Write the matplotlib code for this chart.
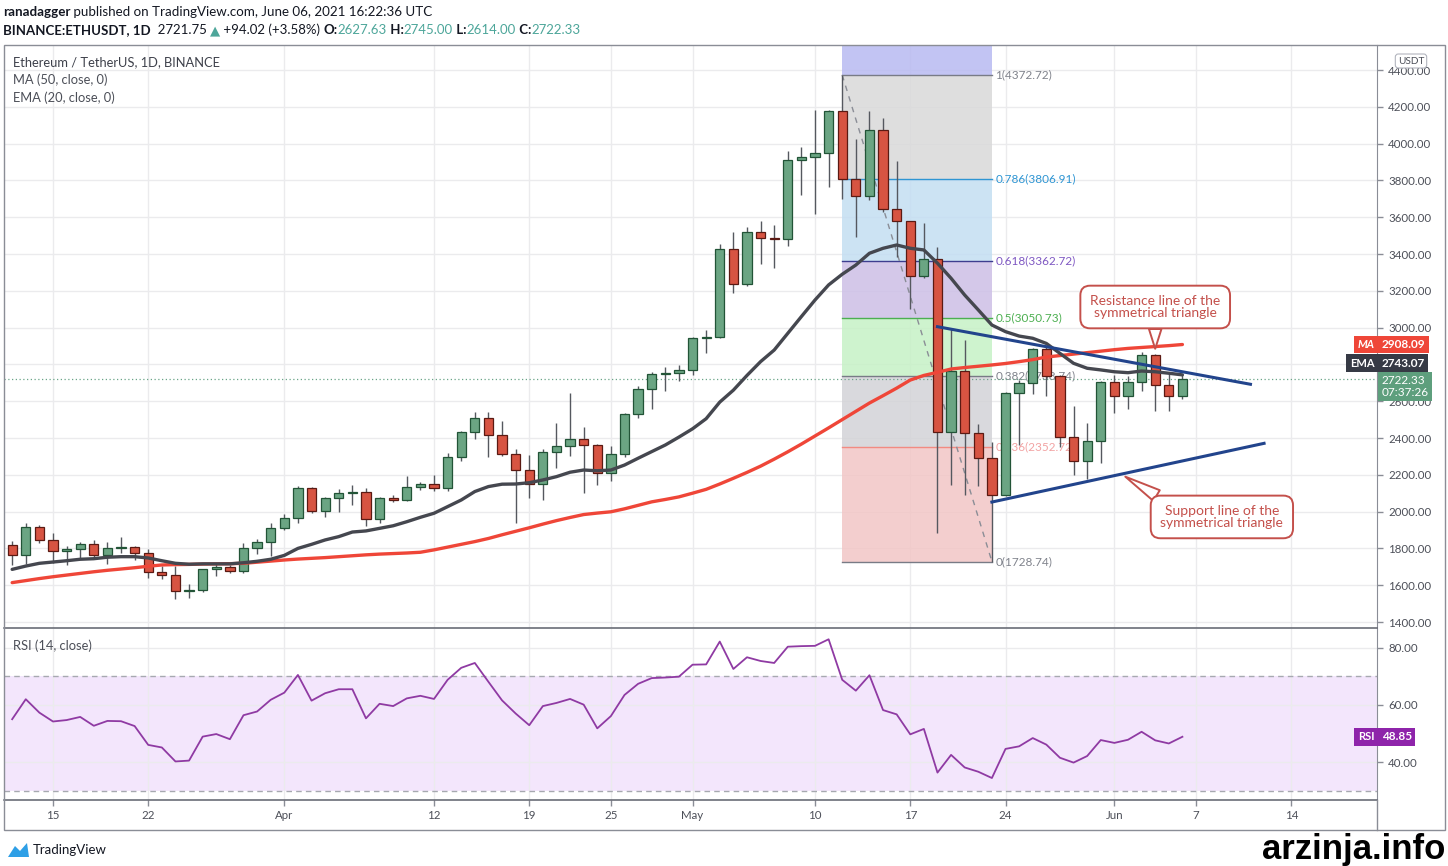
import numpy as np
import pandas as pd
import matplotlib
matplotlib.use("Agg")
import matplotlib.pyplot as plt
from matplotlib.patches import Rectangle, Polygon
from matplotlib.lines import Line2D
import matplotlib.transforms as mtransforms

plt.rcParams['font.family'] = ['Lato', 'DejaVu Sans']

# ---- data (ETH/USDT daily, 2021-03-12 .. 2021-06-06) ----
start_date = "2021-03-12"

opens = [1818, 1765, 1918, 1843, 1784, 1797, 1822, 1765, 1804, 1808,
         1774, 1670, 1656, 1567, 1573, 1687, 1701, 1675, 1803, 1836,
         1911, 1963, 2130, 2003, 2072, 2101, 2108, 1960, 2072, 2063,
         2132, 2148, 2128, 2297, 2431, 2507, 2416, 2315, 2226, 2150,
         2326, 2355, 2393, 2360, 2212, 2315, 2529, 2665, 2746, 2752,
         2770, 2942, 2950, 3427, 3237, 3518, 3485, 3480, 3911, 3926,
         3948, 4177, 3810, 3715, 4074, 3647, 3579, 3280, 3371, 2434,
         2764, 2428, 2289, 2090, 2646, 2697, 2882, 2737, 2404, 2275,
         2382, 2704, 2630, 2702, 2851, 2686, 2627.63]
highs = [1838, 1940, 1929, 1882, 1815, 1837, 1846, 1836, 1864, 1812,
         1797, 1706, 1703, 1605, 1690, 1723, 1712, 1832, 1850, 1940,
         1985, 2139, 2133, 2081, 2121, 2145, 2128, 2078, 2090, 2195,
         2160, 2199, 2316, 2440, 2540, 2543, 2492, 2338, 2305, 2340,
         2480, 2643, 2459, 2368, 2356, 2534, 2680, 2761, 2788, 2796,
         2950, 2986, 3454, 3519, 3548, 3577, 3555, 3960, 3982, 4183,
         4185, 4372.72, 4027, 4179, 4138, 3904, 3580, 3571, 3440, 2990,
         2933, 2478, 2380, 2650, 2715, 2890, 2900, 2742, 2575, 2481,
         2710, 2740, 2736, 2865, 2856, 2758, 2745]
lows = [1712, 1716, 1830, 1720, 1708, 1742, 1752, 1716, 1774, 1738,
        1640, 1634, 1527, 1530, 1565, 1651, 1666, 1665, 1772, 1760,
        1900, 1940, 1990, 1970, 1996, 2036, 1920, 1940, 2052, 2055,
        2115, 2110, 2112, 2273, 2393, 2295, 2302, 1940, 2076, 2062,
        2238, 2300, 2099, 2147, 2167, 2295, 2508, 2556, 2657, 2710,
        2745, 2860, 2945, 3186, 3228, 3346, 3324, 3446, 3720, 3615,
        3765, 3697, 3493, 3695, 3628, 3385, 3099, 3269, 1882, 2145,
        2090, 2140, 1728.74, 2085, 2360, 2640, 2628, 2353, 2200, 2178,
        2266, 2534, 2556, 2656, 2547, 2547, 2614]
closes = [1765, 1918, 1843, 1784, 1797, 1822, 1765, 1804, 1808, 1774,
          1670, 1656, 1567, 1573, 1687, 1701, 1675, 1803, 1836, 1911,
          1963, 2130, 2003, 2072, 2101, 2108, 1960, 2072, 2063, 2132,
          2148, 2128, 2297, 2431, 2507, 2416, 2315, 2226, 2150, 2326,
          2355, 2393, 2360, 2212, 2315, 2529, 2665, 2746, 2752, 2770,
          2942, 2950, 3427, 3237, 3518, 3485, 3480, 3911, 3926, 3948,
          4177, 3810, 3715, 4074, 3647, 3579, 3280, 3371, 2434, 2764,
          2428, 2289, 2090, 2646, 2697, 2882, 2737, 2404, 2275, 2382,
          2704, 2630, 2702, 2851, 2686, 2627.63, 2722.33]

ema20 = [1686, 1704, 1719, 1726, 1733, 1741, 1744, 1752, 1755, 1755,
         1748, 1733, 1719, 1714, 1716, 1716, 1716, 1722, 1730, 1741,
         1762, 1800, 1822, 1846, 1864, 1889, 1895, 1909, 1923, 1945,
         1969, 1991, 2027, 2063, 2109, 2136, 2149, 2150, 2157, 2172,
         2190, 2214, 2226, 2222, 2226, 2253, 2290, 2326, 2362, 2405,
         2450, 2505, 2595, 2660, 2740, 2815, 2878, 2969, 3060, 3150,
         3232, 3290, 3340, 3404, 3431, 3449, 3431, 3422, 3350, 3268,
         3177, 3096, 3014, 2978, 2954, 2942, 2914, 2860, 2806, 2779,
         2770, 2760, 2755, 2764, 2760, 2752, 2743.07]
ma50 = [1614, 1625, 1636, 1646, 1655, 1664, 1673, 1681, 1688, 1695,
        1703, 1710, 1712, 1713, 1715, 1716, 1717, 1719, 1725, 1731,
        1737, 1742, 1746, 1750, 1755, 1760, 1765, 1769, 1772, 1775,
        1779, 1792, 1807, 1822, 1837, 1854, 1874, 1893, 1912, 1932,
        1951, 1968, 1984, 1992, 1999, 2015, 2034, 2053, 2066, 2080,
        2100, 2121, 2150, 2181, 2213, 2247, 2285, 2325, 2367, 2411,
        2455, 2500, 2545, 2590, 2630, 2671, 2715, 2740, 2757, 2775,
        2783, 2790, 2797, 2805, 2815, 2826, 2840, 2848, 2856, 2864,
        2872, 2880, 2887, 2892, 2897, 2902, 2908.09]
rsi14 = [55.0, 62.0, 57.3, 54.2, 54.7, 55.8, 52.7, 54.4, 54.3, 52.6,
         46.0, 45.1, 40.2, 40.5, 48.9, 49.8, 48.0, 56.4, 57.7, 61.8,
         64.3, 70.5, 61.5, 64.1, 65.5, 65.5, 55.3, 60.4, 59.6, 62.3,
         63.2, 62.1, 68.8, 73.0, 74.7, 68.1, 61.6, 57.0, 52.9, 59.6,
         60.7, 62.1, 60.1, 51.8, 56.1, 63.5, 67.4, 69.4, 69.6, 69.9,
         74.1, 74.2, 82.2, 72.6, 76.7, 75.4, 74.7, 80.4, 80.6, 80.7,
         83.0, 68.8, 65.0, 70.4, 58.2, 56.7, 49.7, 51.6, 36.3, 42.5,
         38.1, 36.6, 34.4, 44.6, 45.5, 48.4, 46.1, 41.5, 39.8, 42.1,
         47.7, 46.7, 47.8, 50.6, 47.6, 46.5, 48.85]

tick_dates = ["2021-03-15", "2021-03-22", "2021-04-01", "2021-04-12", "2021-04-19",
              "2021-04-25", "2021-05-01", "2021-05-10", "2021-05-17", "2021-05-24",
              "2021-06-01", "2021-06-07", "2021-06-14"]
tick_labels = ["15", "22", "Apr", "12", "19", "25", "May", "10", "17", "24", "Jun", "7", "14"]
price_ticks = list(range(1400, 4401, 200))
rsi_ticks = [40, 60, 80]

fib_high, fib_low = 4372.72, 1728.74
fib_start, fib_end = "2021-05-12", "2021-05-23"
fib_ratios = [0, 0.236, 0.382, 0.5, 0.618, 0.786, 1]
fib_line_colors = ['#787b86', '#f28b82', '#787b86', '#4caf50', '#3d3d8f', '#2e95d3', '#787b86']
fib_text_colors = ['#80838c', '#f2a3a3', '#80838c', '#4caf50', '#7e57c2', '#2e95d3', '#80838c']
# band fills between successive levels, the last one runs above 1
fib_fills = ['#f2c6c6', '#d3d3d7', '#c6f1c6', '#cdbfe6', '#c3def2', '#d9d9d9', '#b8baf1']

resist_dates, resist_prices = ["2021-05-19", "2021-06-11"], [3005, 2692]
support_dates, support_prices = ["2021-05-23", "2021-06-12"], [2052, 2371]

last_price = 2722.33

# ---- helpers ----
W, H = 1448, 866
t0 = pd.Timestamp(start_date)


def dx(d):
    return (pd.Timestamp(d) - t0).days


def frect(x0, y0, x1, y1):
    return [x0 / W, 1 - y1 / H, (x1 - x0) / W, (y1 - y0) / H]


o = np.array(opens); h = np.array(highs); l = np.array(lows); c = np.array(closes)
x = np.arange(len(c))

fig = plt.figure(figsize=(W / 100, H / 100), dpi=100)
fig.patch.set_facecolor('white')

ax = fig.add_axes(frect(4, 45, 1377, 628))
ax2 = fig.add_axes(frect(4, 629, 1377, 800))

xlim = (-0.6, 100.3)
for a in (ax, ax2):
    a.set_xlim(*xlim)
    for s in ('left', 'top'):
        a.spines[s].set_visible(False)
    a.spines['right'].set_color('#8a8d96')
    a.spines['bottom'].set_color('#5d606b')
    a.spines['bottom'].set_linewidth(1.1)

ax.set_ylim(1367.4, 4535.9)
ax2.set_ylim(26.7, 86.6)

grid_c = '#ebebed'
tick_x = [dx(d) for d in tick_dates]
for a in (ax, ax2):
    for t in tick_x:
        a.axvline(t, color=grid_c, lw=1, zorder=0.2)
for p in price_ticks:
    ax.axhline(p, color=grid_c, lw=1, zorder=0.2)
for r in rsi_ticks:
    ax2.axhline(r, color=grid_c, lw=1, zorder=0.2)

# ---- fib retracement ----
fx0, fx1 = dx(fib_start), dx(fib_end)
levels = [fib_low + r * (fib_high - fib_low) for r in fib_ratios]
bounds = levels + [4700]
for i in range(len(levels)):
    ax.fill_between([fx0, fx1], bounds[i], bounds[i + 1], color=fib_fills[i],
                    alpha=0.85, lw=0, zorder=0.5)
for r, lev, lc, tc in zip(fib_ratios, levels, fib_line_colors, fib_text_colors):
    ax.plot([fx0, fx1], [lev, lev], color=lc, lw=1, zorder=0.8)
    lab = ("%g" % r) + "(%.2f)" % lev
    ax.text(fx1 + 0.25, lev, lab, color=tc, fontsize=8.5, ha='left', va='center', zorder=0.9)
ax.plot([fx0, fx1], [fib_high, fib_low], color='#8a8d96', lw=1, ls=(0, (4, 4)), zorder=0.9)

# ---- last price dotted line ----
ax.axhline(last_price, color='#6aa588', lw=0.9, ls=(0, (1, 2)), zorder=1)

# ---- candles ----
up = c >= o
bot = np.minimum(o, c)
hgt = np.maximum(np.abs(c - o), 4)
ax.vlines(x, l, h, color='#55585f', lw=1, zorder=3)
ax.bar(x[up], hgt[up], bottom=bot[up], width=0.68, color='#6ba583', edgecolor='#225437',
       lw=0.9, zorder=4)
ax.bar(x[~up], hgt[~up], bottom=bot[~up], width=0.68, color='#d75442', edgecolor='#5b1a13',
       lw=0.9, zorder=4)

# ---- moving averages ----
ax.plot(x, ma50, color='#ef4638', lw=2.4, zorder=5, solid_capstyle='round')
ax.plot(x, ema20, color='#45474f', lw=2.4, zorder=5, solid_capstyle='round')

# ---- triangle lines ----
ax.plot([dx(d) for d in resist_dates], resist_prices, color='#22448c', lw=2.2, zorder=6)
ax.plot([dx(d) for d in support_dates], support_prices, color='#22448c', lw=2.2, zorder=6)

call_c = '#c4504b'
ax.annotate("Resistance line of the\nsymmetrical triangle", xy=(84.0, 2885), xytext=(84.0, 3112),
            ha='center', va='center', fontsize=10, color=call_c, linespacing=0.92, zorder=8,
            bbox=dict(boxstyle='round,pad=0.7,rounding_size=0.7', fc='white', ec=call_c, lw=1.4),
            arrowprops=dict(arrowstyle='wedge,tail_width=0.9,shrink_factor=0.5', fc='white',
                            ec=call_c, lw=1.4, relpos=(0.5, 0.0), shrinkA=0, shrinkB=0))
ax.annotate("Support line of the\nsymmetrical triangle", xy=(81.8, 2190), xytext=(88.9, 1971),
            ha='center', va='center', fontsize=10, color=call_c, linespacing=0.92, zorder=8,
            bbox=dict(boxstyle='round,pad=0.7,rounding_size=0.7', fc='white', ec=call_c, lw=1.4),
            arrowprops=dict(arrowstyle='wedge,tail_width=0.9,shrink_factor=0.5', fc='white',
                            ec=call_c, lw=1.4, relpos=(0.1, 1.0), shrinkA=0, shrinkB=0))

# ---- axes ticks ----
ax.set_xticks(tick_x)
ax.tick_params(axis='x', length=0, labelbottom=False)
ax.yaxis.tick_right()
ax.set_yticks(price_ticks)
# the 2800 label sits fully under the EMA tag in the original, so leave it blank
ax.set_yticklabels(["" if p == 2800 else "%.2f" % p for p in price_ticks])
ax.tick_params(axis='y', length=4, width=1, color='#8a8d96', pad=4, labelsize=8.3,
               labelcolor='#4c4f58')

ax2.plot(x, rsi14, color='#8f3aa3', lw=1.3, zorder=4)
ax2.axhspan(30, 70, color='#f3e6fc', zorder=0.1, lw=0)
ax2.axhline(70, color='#a7a9b0', lw=1, ls=(0, (4, 3)), zorder=1)
ax2.axhline(30, color='#a7a9b0', lw=1, ls=(0, (4, 3)), zorder=1)
ax2.yaxis.tick_right()
ax2.set_yticks(rsi_ticks)
ax2.set_yticklabels(["%.2f" % r for r in rsi_ticks])
ax2.tick_params(axis='y', length=4, width=1, color='#8a8d96', pad=4, labelsize=8.3,
                labelcolor='#4c4f58')
ax2.set_xticks(tick_x)
ax2.set_xticklabels(tick_labels)
ax2.tick_params(axis='x', length=4, width=1, color='#8a8d96', pad=3, labelsize=8.3,
                labelcolor='#4c4f58')

# ---- right axis tags (stacked like TradingView so they do not collide) ----
bt = mtransforms.blended_transform_factory(ax.transAxes, ax.transData)
bt2 = mtransforms.blended_transform_factory(ax2.transAxes, ax2.transData)


def tag(ax_, a_tr, yv, name, val, colr, name_style='normal'):
    ax_.text(1.0035, yv, val, transform=a_tr, ha='left', va='center', color='white',
             fontsize=8.5, fontweight='bold', clip_on=False, zorder=20,
             bbox=dict(boxstyle='square,pad=0.28', fc=colr, ec='none'))
    ax_.text(0.998, yv, name, transform=a_tr, ha='right', va='center', color='white',
             fontsize=8, fontweight='bold', fontstyle=name_style, clip_on=False, zorder=20,
             bbox=dict(boxstyle='square,pad=0.3', fc=colr, ec='none'))


tag(ax, bt, ma50[-1], "MA", "%.2f" % ma50[-1], '#ef4638', 'italic')
tag(ax, bt, 2807, "EMA", "%.2f" % ema20[-1], '#363a45')
ax.text(1.0035, 2740, "%.2f\n07:37:26" % last_price, transform=bt, ha='left',
        va='top', color='white', fontsize=8.5, linespacing=1.05, clip_on=False, zorder=21,
        bbox=dict(boxstyle='square,pad=0.3', fc='#5e9f7d', ec='none'))
tag(ax2, bt2, rsi14[-1], "RSI", "%.2f" % rsi14[-1], '#8e24aa')

fig.text(1411 / W, 1 - 61 / H, "USDT", ha='center', va='center', fontsize=7.2, color='#4c4f58',
         bbox=dict(boxstyle='round,pad=0.25,rounding_size=0.3', fc='white', ec='#b2b5be', lw=0.8),
         zorder=30)

# ---- frame ----
fig.add_artist(Rectangle((4 / W, 1 - 830 / H), 1441 / W, 785 / H, transform=fig.transFigure,
                         fill=False, ec='#8a8d96', lw=1))
fig.add_artist(Line2D([1377 / W, 1377 / W], [1 - 830 / H, 1 - 800 / H], transform=fig.transFigure,
                      color='#8a8d96', lw=1))

# ---- legend texts ----
fig.text(13 / W, 1 - 62 / H, "Ethereum / TetherUS, 1D, BINANCE", fontsize=9.3, color='#3d404a',
         va='center')
fig.text(13 / W, 1 - 80 / H, "MA (50, close, 0)", fontsize=9.3, color='#4c4f58', va='center')
fig.text(13 / W, 1 - 98 / H, "EMA (20, close, 0)", fontsize=9.3, color='#4c4f58', va='center')
fig.text(13 / W, 1 - 646 / H, "RSI (14, close)", fontsize=9.3, color='#4c4f58', va='center')

# ---- header with mixed colours ----
renderer = fig.canvas.get_renderer()


def rich(x0, y0, parts, size=9.6):
    xx = x0
    for s, col, wt in parts:
        t = fig.text(xx / W, 1 - y0 / H, s, color=col, fontweight=wt, fontsize=size, va='center')
        xx += t.get_window_extent(renderer).width


dark = '#131722'
teal = '#4da69a'
rich(3, 12, [("ranadagger", dark, 'bold'),
             (" published on TradingView.com, June 06, 2021 16:22:36 UTC", dark, 'normal')])
rich(3, 30, [("BINANCE:ETHUSDT, 1D", dark, 'bold'), ("  2721.75 ", dark, 'normal'),
             ("\u25B2", teal, 'normal'), (" +94.02 (+3.58%) ", dark, 'normal'),
             ("O:", dark, 'bold'), ("2627.63", teal, 'normal'),
             (" H:", dark, 'bold'), ("2745.00", teal, 'normal'),
             (" L:", dark, 'bold'), ("2614.00", teal, 'normal'),
             (" C:", dark, 'bold'), ("2722.33", teal, 'normal')], size=9.5)

# ---- footer ----
fig.add_artist(Polygon([(8 / W, 1 - 857 / H), (15 / W, 1 - 846 / H), (20 / W, 1 - 851 / H),
                        (27 / W, 1 - 843 / H), (29 / W, 1 - 857 / H)],
                       closed=True, transform=fig.transFigure, fc='#2e9fe6', ec='none'))
fig.text(33 / W, 1 - 850 / H, "TradingView", fontsize=9.5, color=dark, va='center')
fig.text(1445 / W, 1 - 850 / H, "arzinja.info", fontsize=25, fontweight='bold', color='black',
         ha='right', va='center', family=['Liberation Sans', 'DejaVu Sans'])

fig.savefig("out.png", dpi=100, facecolor='white')
